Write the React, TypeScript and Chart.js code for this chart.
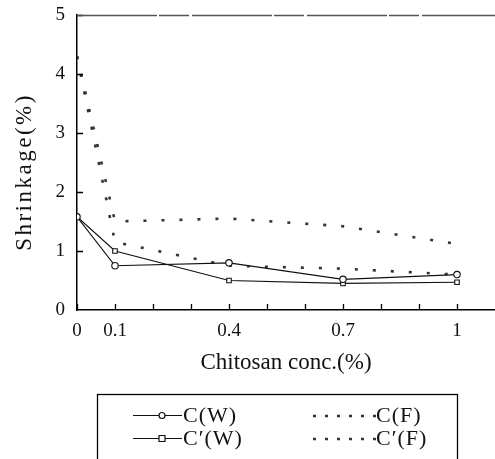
import React, { useEffect, useRef } from "react";
import { Chart, registerables } from "chart.js";

Chart.register(...registerables);

const xValues = [0, 0.1, 0.4, 0.7, 1];
const cW = [1.58, 0.75, 0.8, 0.52, 0.6];
const cpW = [1.58, 1.0, 0.5, 0.45, 0.47];
const cF = [4.3, 1.5, 1.55, 1.42, 1.12];
const cpF = [4.3, 1.15, 0.75, 0.7, 0.6];
const seriesLabels = ["C(W)", "C′(W)", "C(F)", "C′(F)"];
const xTickValues = [0, 0.1, 0.2, 0.3, 0.4, 0.5, 0.6, 0.7, 0.8, 0.9, 1.0];
const xLabelValues = [0, 0.1, 0.4, 0.7, 1];
const yTickValues = [0, 1, 2, 3, 4, 5];
const xMax = 1.1;
const xTitle = "Chitosan conc.(%)";
const yTitle = "Shrinkage(%)";

const FONT = "'Liberation Serif', 'Times New Roman', serif";

const pts = (ys: number[]) => xValues.map((x, i) => ({ x, y: ys[i] }));

const decoPlugin = {
  id: "deco",
  afterDraw(chart: any) {
    const { ctx, chartArea } = chart;
    const xs = chart.scales.x;
    const ys = chart.scales.y;
    ctx.save();
    // inward tick marks
    ctx.strokeStyle = "#000";
    ctx.lineWidth = 1.3;
    ctx.beginPath();
    xTickValues.forEach((v) => {
      const px = Math.round(xs.getPixelForValue(v)) + 0.5;
      ctx.moveTo(px, chartArea.bottom);
      ctx.lineTo(px, chartArea.bottom - 6);
    });
    yTickValues.slice(1).forEach((v) => {
      const py = Math.round(ys.getPixelForValue(v)) + 0.5;
      ctx.moveTo(chartArea.left, py);
      ctx.lineTo(chartArea.left + 6, py);
    });
    ctx.stroke();
    // top border (dashed grey)
    const ty = Math.round(ys.getPixelForValue(5)) + 0.5;
    ctx.strokeStyle = "#555";
    ctx.lineWidth = 1.5;
    ctx.setLineDash([80, 2, 30, 3]);
    ctx.beginPath();
    ctx.moveTo(chartArea.left, ty);
    ctx.lineTo(chartArea.right, ty);
    ctx.stroke();
    ctx.setLineDash([]);

    // y title (letter-spaced)
    ctx.save();
    ctx.fillStyle = "#111";
    ctx.font = `23px ${FONT}`;
    (ctx as any).letterSpacing = "2.5px";
    ctx.textAlign = "center";
    ctx.textBaseline = "middle";
    ctx.translate(25, 172);
    ctx.rotate(-Math.PI / 2);
    ctx.fillText(yTitle, 0, 0);
    ctx.restore();

    // legend box
    const bx = 97.5, by = 394.5, bw = 360, bh = 80;
    ctx.strokeStyle = "#000";
    ctx.lineWidth = 1.3;
    ctx.strokeRect(bx, by, bw, bh);
    const rows = [415, 438];
    ctx.font = `22px ${FONT}`;
    (ctx as any).letterSpacing = "1px";
    ctx.fillStyle = "#111";
    ctx.textBaseline = "middle";
    ctx.textAlign = "left";
    const ds = chart.data.datasets;
    [0, 1].forEach((i) => {
      const y = rows[i];
      ctx.strokeStyle = "#111";
      ctx.lineWidth = 1.2;
      ctx.beginPath();
      ctx.moveTo(133, y + 0.5);
      ctx.lineTo(182, y + 0.5);
      ctx.stroke();
      ctx.fillStyle = "#fff";
      ctx.beginPath();
      if (i === 0) {
        ctx.arc(162, y + 0.5, 3, 0, Math.PI * 2);
      } else {
        ctx.rect(159, y - 2.5, 6, 6);
      }
      ctx.fill();
      ctx.stroke();
      ctx.fillStyle = "#111";
      ctx.fillText(ds[i].label, 183, y + 1);
    });
    [2, 3].forEach((i, k) => {
      const y = rows[k];
      ctx.strokeStyle = "#333";
      ctx.lineWidth = 2.5;
      ctx.setLineDash([3, 9]);
      ctx.beginPath();
      ctx.moveTo(313, y + 1);
      ctx.lineTo(376, y + 1);
      ctx.stroke();
      ctx.setLineDash([]);
      ctx.fillStyle = "#111";
      ctx.fillText(ds[i].label, 376, y + 1);
    });
    ctx.restore();
  },
};

export default function App() {
  const ref = useRef<HTMLCanvasElement>(null);
  useEffect(() => {
    if (!ref.current) return;
    const solid = (label: string, data: number[], style: string) => ({
      label,
      data: pts(data),
      borderColor: "#111",
      borderWidth: 1.2,
      pointStyle: style,
      pointRadius: 3.2,
      pointBackgroundColor: "#fff",
      pointBorderColor: "#111",
      pointBorderWidth: 1.1,
      fill: false,
      tension: 0,
    });
    const dotted = (label: string, data: number[]) => ({
      label,
      data: pts(data),
      borderColor: "#333",
      borderWidth: 2.6,
      borderDash: [3, 15],
      pointRadius: 0,
      fill: false,
      tension: 0,
    });
    const chart = new Chart(ref.current, {
      type: "line",
      data: {
        datasets: [
          solid(seriesLabels[0], cW, "circle"),
          solid(seriesLabels[1], cpW, "rect"),
          dotted(seriesLabels[2], cF),
          dotted(seriesLabels[3], cpF),
        ],
      },
      options: {
        animation: false,
        responsive: false,
        layout: { autoPadding: false, padding: { top: 15, left: 0, right: 0, bottom: 0 } },
        plugins: { legend: { display: false }, tooltip: { enabled: false } },
        scales: {
          x: {
            type: "linear",
            min: 0,
            max: xMax,
            afterBuildTicks: (s: any) => {
              s.ticks = [...xTickValues, xMax].map((v) => ({ value: v }));
            },
            afterFit: (s: any) => {
              s.height = 149;
              s.paddingLeft = 0;
              s.paddingRight = 0;
            },
            grid: { display: false, drawTicks: false },
            border: { display: true, color: "#000", width: 1.5 },
            ticks: {
              autoSkip: false,
              maxRotation: 0,
              padding: 10,
              color: "#111",
              font: { family: FONT, size: 19 },
              callback: (v: any) => {
                const n = Number(v);
                const m = xLabelValues.find((l) => Math.abs(l - n) < 1e-6);
                return m === undefined ? "" : String(m);
              },
            },
            title: {
              display: true,
              text: xTitle,
              color: "#111",
              font: { family: FONT, size: 23 },
              padding: { top: 0, bottom: 82 },
            },
          },
          y: {
            type: "linear",
            min: 0,
            max: 5,
            afterBuildTicks: (s: any) => {
              s.ticks = yTickValues.map((v) => ({ value: v }));
            },
            afterFit: (s: any) => {
              s.width = 77;
              s.paddingTop = 0;
              s.paddingBottom = 0;
            },
            grid: { display: false, drawTicks: false },
            border: { display: true, color: "#000", width: 1.5 },
            ticks: {
              padding: 12,
              color: "#111",
              font: { family: FONT, size: 19 },
            },
            title: { display: false },
          },
        },
      },
      plugins: [decoPlugin],
    } as any);
    return () => chart.destroy();
  }, []);
  return (
    <div style={{ position: "absolute", left: 0, top: 0, width: 495, height: 459, background: "#fff" }}>
      <canvas ref={ref} width={495} height={459} style={{ display: "block" }} />
    </div>
  );
}
